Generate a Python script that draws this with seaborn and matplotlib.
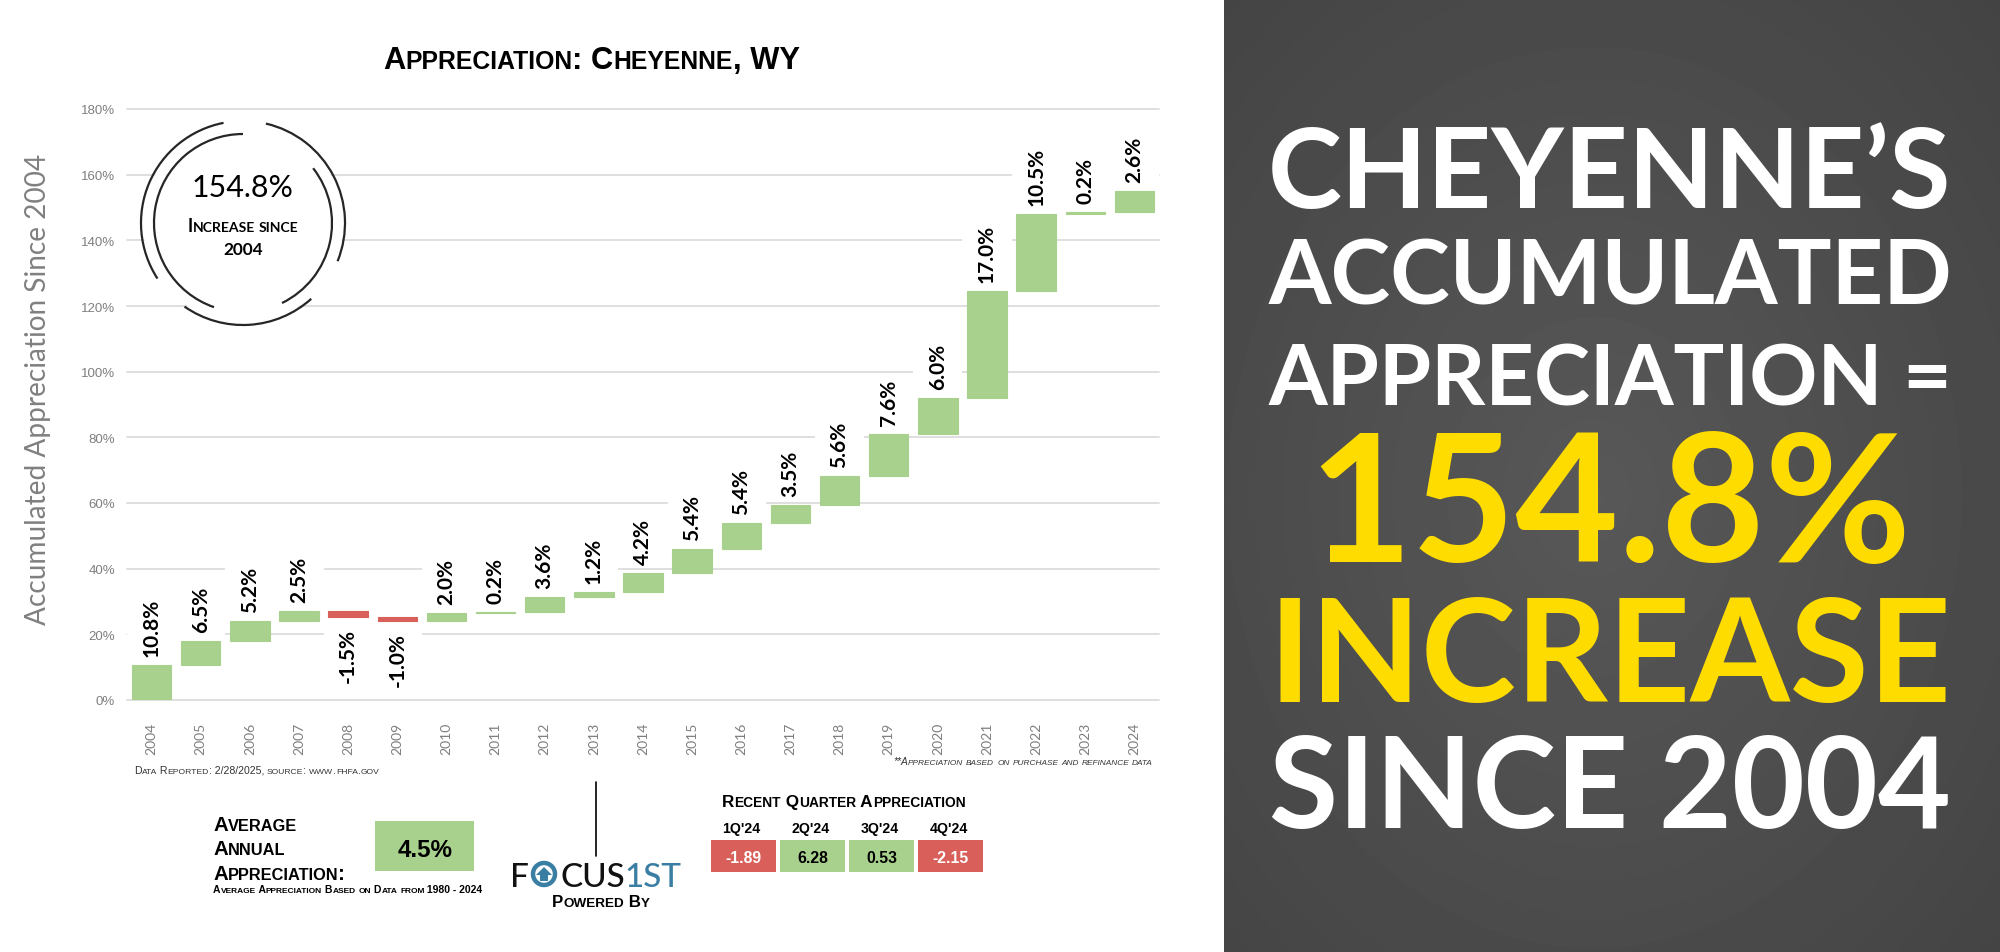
import matplotlib
matplotlib.use("Agg")
import matplotlib.pyplot as plt
import seaborn as sns
import numpy as np
import pandas as pd
from matplotlib import font_manager
from matplotlib.patches import Rectangle, Circle, Arc, Polygon

# ---------------- data ----------------
years = [str(y) for y in range(2004, 2025)]
annual_pct = [10.8, 6.5, 5.2, 2.5, -1.5, -1.0, 2.0, 0.2, 3.6, 1.2, 4.2,
              5.4, 5.4, 3.5, 5.6, 7.6, 6.0, 17.0, 10.5, 0.2, 2.6]
y_ticks = [0, 20, 40, 60, 80, 100, 120, 140, 160, 180]
total_increase = "154.8%"
avg_annual = "4.5%"
quarters = ["1Q'24", "2Q'24", "3Q'24", "4Q'24"]
quarter_vals = [-1.89, 6.28, 0.53, -2.15]
right_lines = ["CHEYENNE\u2019S", "ACCUMULATED", "APPRECIATION =",
               total_increase, "INCREASE", "SINCE 2004"]

# waterfall levels (compounded accumulation of the annual rates)
cum = (np.cumprod(1 + np.array(annual_pct) / 100) - 1) * 100
start = np.concatenate([[0.0], cum[:-1]])
bottoms = np.minimum(start, cum)
heights = np.abs(cum - start)

GREEN = "#a9d18e"
RED = "#d9605a"
BLUE = "#3b7ea3"
YELLOW = "#ffdc00"

sns.set_style("white")
names = {f.name for f in font_manager.fontManager.ttflist}
NARROW = "Liberation Sans Narrow" if "Liberation Sans Narrow" in names else "Liberation Sans"
plt.rcParams["font.family"] = ["Lato", "DejaVu Sans"]

W, H = 2000, 953
fig = plt.figure(figsize=(W / 100, H / 100), dpi=100)
fig.patch.set_facecolor("white")

# ---------------- main waterfall axes ----------------
ax_l, ax_r, ax_b, ax_t = 127, 1159, 701, 110
ax = fig.add_axes([ax_l / W, (H - ax_b) / H, (ax_r - ax_l) / W, (ax_b - ax_t) / H])
df = pd.DataFrame({"year": years, "height": heights})
sns.barplot(data=df, x="year", y="height", order=years, bottom=bottoms,
            width=0.8, color=GREEN, saturation=1, errorbar=None, ax=ax)
for p, v in zip(ax.patches, annual_pct):
    c = GREEN if v >= 0 else RED
    p.set_facecolor(c)
    p.set_edgecolor(c)
    p.set_linewidth(0.8)
    p.set_zorder(2)

ax.set_xlim(-0.5, len(years) - 0.5)
ax.set_ylim(0, 180)
ax.set_yticks(y_ticks)
ax.set_yticklabels([f"{v}%" for v in y_ticks], fontfamily="Liberation Sans",
                   fontsize=9.5, color="#7f7f7f")
ax.set_xticks(range(len(years)))
ax.set_xticklabels(years, rotation=90, fontfamily="Lato", fontsize=10, color="#7f7f7f")
ax.tick_params(axis="y", length=0, pad=8.6)
ax.tick_params(axis="x", length=0, pad=15.5)
ax.set_xlabel("")
ax.set_ylabel("")
for s in ax.spines.values():
    s.set_visible(False)
ax.set_axisbelow(True)
ax.grid(axis="y", color="#dcdcdc", lw=1.3)
ax.grid(axis="x", visible=False)
for gl in ax.get_ygridlines():
    gl.set_clip_on(False)

label_texts = []
for i, v in enumerate(annual_pct):
    if v >= 0:
        t = ax.annotate(f"{v:.1f}%", xy=(i, cum[i]), xytext=(0, 6.5), textcoords="offset points",
                        rotation=90, ha="center", va="bottom", fontsize=15,
                        fontweight="bold", color="black", zorder=5)
    else:
        t = ax.annotate(f"{v:.1f}%", xy=(i, cum[i]), xytext=(0, -8), textcoords="offset points",
                        rotation=90, ha="center", va="top", fontsize=15,
                        fontweight="bold", color="black", zorder=5)
    label_texts.append(t)

# ---------------- overlay in pixel coordinates ----------------
ov = fig.add_axes([0, 0, 1, 1], zorder=5)
ov.set_xlim(0, W)
ov.set_ylim(H, 0)
ov.axis("off")

fig.canvas.draw()
R = fig.canvas.get_renderer()

# white boxes behind the data labels (as in the source chart)
inv = ax.transData.inverted()
for i, t in enumerate(label_texts):
    bb = t.get_window_extent(R)
    y0 = inv.transform((bb.x0, bb.y0 - 4))[1]
    y1 = inv.transform((bb.x1, bb.y1 + 4))[1]
    ax.add_patch(Rectangle((i - 0.5, y0), 1.0, y1 - y0, facecolor="white",
                           edgecolor="none", zorder=1))


def text_width(s, **props):
    t = ov.text(0, 0, "|" + s + "|", **props)
    w1 = t.get_window_extent(R).width
    t.set_text("||")
    w2 = t.get_window_extent(R).width
    t.remove()
    return w1 - w2


def sc_runs(s):
    runs = []
    for ch in s:
        small = ch.islower()
        c = ch.upper() if small else ch
        if runs and runs[-1][1] == small:
            runs[-1][0] += c
        else:
            runs.append([c, small])
    return runs


def sc_width(s, size, ratio=0.8, **props):
    return sum(text_width(r, fontsize=size * (ratio if sm else 1), **props)
               for r, sm in sc_runs(s))


def sc_text(x, y, s, size, ratio=0.8, ha="left", **props):
    runs = sc_runs(s)
    ws = [text_width(r, fontsize=size * (ratio if sm else 1), **props) for r, sm in runs]
    total = sum(ws)
    x0 = x if ha == "left" else (x - total / 2 if ha == "center" else x - total)
    for (r, sm), w in zip(runs, ws):
        ov.text(x0, y, r, fontsize=size * (ratio if sm else 1), va="baseline",
                ha="left", **props)
        x0 += w


def fit_sc(s, target, ratio=0.8, **props):
    return 20 * target / sc_width(s, 20, ratio, **props)


def fit(s, target, **props):
    return 20 * target / text_width(s, fontsize=20, **props)


# title
p = dict(family=NARROW, fontweight="bold", color="black")
sc_text(383, 69, "Appreciation: Cheyenne, WY", fit_sc("Appreciation: Cheyenne, WY", 418, **p), **p)

# y axis title
p = dict(family="Lato", color="#808080")
ov.text(38, 389, "Accumulated Appreciation Since 2004", rotation=90, ha="center", va="center",
        fontsize=fit("Accumulated Appreciation Since 2004", 472, **p), **p)

# circle badge
cx, cy = 243, 224
ov.add_patch(Circle((cx, cy), 100, facecolor="white", edgecolor="none", zorder=1))
for rad, segs in [(102, [(101, 213), (-22, 77), (-125, -48)]),
                  (89, [(90, 251), (-64, 38)])]:
    for a1, a2 in segs:
        ov.add_patch(Arc((cx, cy), 2 * rad, 2 * rad, theta1=-a2, theta2=-a1,
                         lw=1.6, color="#262626", zorder=2))
p = dict(family="Lato", color="black")
ov.text(cx, 197, total_increase, ha="center", va="baseline", fontsize=fit(total_increase, 102, **p), **p)
p = dict(family="Lato", fontweight="bold", color="black")
sc_text(cx, 232, "Increase since", fit_sc("Increase since", 112, **p), ha="center", **p)
ov.text(cx, 255, "2004", ha="center", va="baseline", fontsize=fit("2004", 40, **p), **p)

# footnotes
p = dict(family=NARROW, color="#333333")
sc_text(134, 774, "Data Reported: 2/28/2025, source: www.fhfa.gov",
        fit_sc("Data Reported: 2/28/2025, source: www.fhfa.gov", 245, **p), **p)
p = dict(family=NARROW, color="#333333", fontstyle="italic")
sc_text(1153, 765, "**Appreciation based on purchase and refinance data",
        fit_sc("**Appreciation based on purchase and refinance data", 260, **p), ha="right", **p)

# average annual appreciation
p = dict(family=NARROW, fontweight="bold", color="black")
fs = fit_sc("Appreciation:", 132, **p)
for txt, yb in [("Average", 831), ("Annual", 855), ("Appreciation:", 880)]:
    sc_text(213, yb, txt, fs, **p)
sub = "Average Appreciation Based on Data from 1980 - 2024"
sc_text(213, 893, sub, fit_sc(sub, 270, **p), **p)
ov.add_patch(Rectangle((375, 822), 99, 50, facecolor=GREEN, edgecolor="none"))
ov.text(425, 857, avg_annual, ha="center", va="baseline", fontsize=fit(avg_annual, 55, **p), **p)

# divider + logo
ov.plot([596, 596], [783, 857], color="black", lw=1.2)
p = dict(family="Lato", color="#111111", fontweight="medium")
fs_logo = fit("CUS1ST", 122, **p)
ov.text(510, 887, "F", fontsize=fs_logo, va="baseline", ha="left", **p)
ov.add_patch(Circle((544, 875), 11, fill=False, lw=3.2, edgecolor=BLUE))
ov.add_patch(Polygon([[536, 876], [544, 868], [552, 876]], closed=True, facecolor=BLUE, edgecolor="none"))
ov.add_patch(Rectangle((540, 875), 8, 7, facecolor=BLUE, edgecolor="none"))
ov.text(560, 887, "CUS", fontsize=fs_logo, va="baseline", ha="left", **p)
wcus = text_width("CUS", fontsize=fs_logo, **p)
ov.text(560 + wcus, 887, "1ST", fontsize=fs_logo, va="baseline", ha="left",
        family="Lato", fontweight="medium", color=BLUE)
p = dict(family=NARROW, fontweight="bold", color="black")
sc_text(601, 907, "Powered By", fit_sc("Powered By", 98, **p), ha="center", **p)

# recent quarters
sc_text(722, 807, "Recent Quarter Appreciation", fit_sc("Recent Quarter Appreciation", 244, **p), **p)
fs_q = fit(quarters[0], 38, **p)
pv = dict(family="Liberation Sans", fontweight="bold")
fs_v = fit("-1.89", 36, **pv)
for i, (q, v) in enumerate(zip(quarters, quarter_vals)):
    x0 = 711 + 69 * i
    xc = x0 + 32.5
    ov.text(xc - 2, 833, q, ha="center", va="baseline", fontsize=fs_q, **p)
    ov.add_patch(Rectangle((x0, 841), 65, 32, facecolor=RED if v < 0 else GREEN, edgecolor="none"))
    ov.text(xc, 863, f"{v:.2f}", ha="center", va="baseline", fontsize=fs_v,
            color="white" if v < 0 else "black", **pv)

# right dark panel
gy, gx = np.mgrid[0:240, 0:200]
d = np.sqrt(((gx - 95) / 200) ** 2 + ((gy - 125) / 240) ** 2)
shade = 0.345 - 0.11 * d
ov.imshow(shade, cmap="gray", vmin=0, vmax=1, extent=(1224, W, H, 0), aspect="auto",
          interpolation="bilinear", zorder=0)
baselines = [208, 305, 406, 562, 702, 828]
cap_limits = [None, None, None, 128, None, None]
colors = ["white", "white", "white", YELLOW, YELLOW, "white"]
p = dict(family="Lato", fontweight="bold")
for txt, yb, c, cap in zip(right_lines, baselines, colors, cap_limits):
    size = fit(txt, 684, **p)
    if cap is not None:
        size = min(size, cap / 0.7165 * 0.72)
    ov.text(1610, yb, txt, ha="center", va="baseline", color=c, fontsize=size, **p)

ov.set_xlim(0, W)
ov.set_ylim(H, 0)
fig.savefig("out.png", dpi=100)
